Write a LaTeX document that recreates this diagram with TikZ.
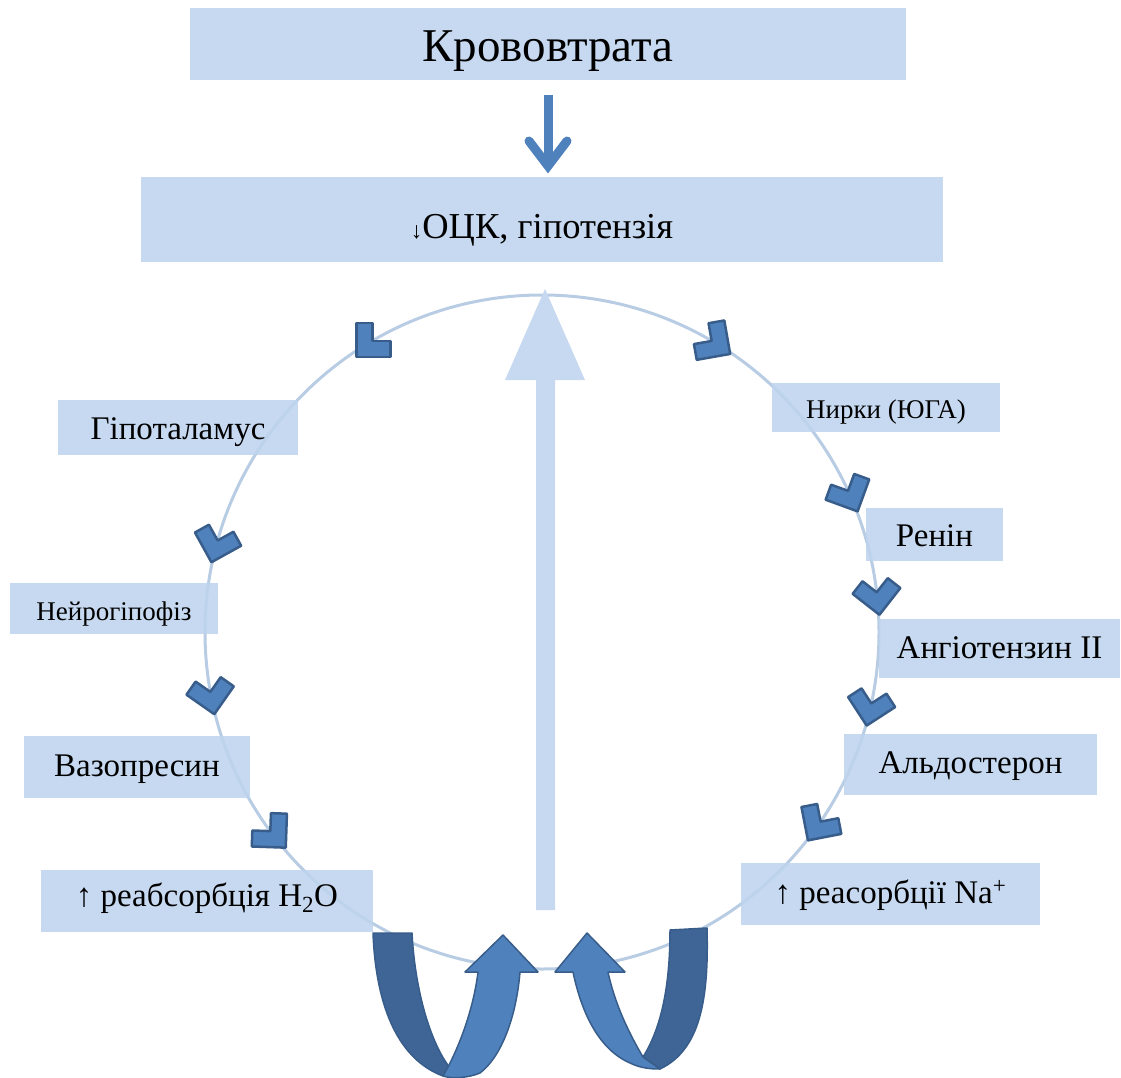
\documentclass[tikz,border=0pt]{standalone}
\usepackage{fontspec}
\setmainfont{Liberation Serif}
\usetikzlibrary{backgrounds}
\definecolor{boxblue}{RGB}{198,217,240}
\definecolor{boxfill}{RGB}{190,212,238}
\definecolor{ringblue}{RGB}{184,204,228}
\definecolor{accent}{RGB}{79,129,189}
\definecolor{accentdark}{RGB}{56,93,138}
\definecolor{backblue}{RGB}{62,101,150}
\newcommand\titlesz{\fontsize{47}{52}\selectfont}
\newcommand\ocksz{\fontsize{36.5}{40}\selectfont}
\newcommand\mainsz{\fontsize{33}{38}\selectfont}
\newcommand\smallsz{\fontsize{27}{32}\selectfont}
\newcommand\bl[2]{\raisebox{-#1pt}[0pt][0pt]{#2}}
\tikzset{
  lbl/.style={fill=boxfill, fill opacity=0.88, text opacity=1, inner sep=0pt, align=center, text=black},
  chev/.style={fill=accent, draw=accentdark, line width=2.5pt, line join=round},
  frontarrow/.style={fill=accent, draw=accentdark, line width=1.5pt, line join=round},
  backarrow/.style={fill=backblue, draw=accentdark, line width=1.5pt, line join=round},
  ring/.style={draw=ringblue, line width=3pt},
  bigup/.style={fill=boxblue, draw=none},
  downarr/.style={draw=accent, line width=9pt}
}
\begin{document}
\begin{tikzpicture}[x=1pt,y=-1pt]
\useasboundingbox (0,0) rectangle (1121,1078);

% boxes
\node[lbl, minimum width=716pt, minimum height=72pt] (title) at (548,44) {\bl{18}{\titlesz Крововтрата}};
\node[lbl, minimum width=802pt, minimum height=85pt] (ock) at (542,219.5) {\bl{18.5}{\ocksz{\fontsize{23}{25}\selectfont ↓}ОЦК, гіпотензія}};
\node[lbl, minimum width=240pt, minimum height=55pt] (hypo) at (178,427.5) {\bl{11.5}{\mainsz Гіпоталамус}};
\node[lbl, minimum width=208pt, minimum height=51pt] (neuro) at (114,608.5) {\bl{11.5}{\smallsz Нейрогіпофіз}};
\node[lbl, minimum width=226pt, minimum height=62pt] (vaso) at (137,767) {\bl{9.5}{\mainsz Вазопресин}};
\node[lbl, minimum width=332pt, minimum height=62pt] (reabs) at (207,901) {\bl{5}{\mainsz ↑ реабсорбція H\textsubscript{2}O}};
\node[lbl, minimum width=228pt, minimum height=49pt] (kidney) at (886,407.5) {\bl{10.5}{\smallsz Нирки (ЮГА)}};
\node[lbl, minimum width=137pt, minimum height=53pt] (renin) at (934.5,534.5) {\bl{12}{\mainsz Ренін}};
\node[lbl, minimum width=241pt, minimum height=59pt] (angio) at (999.5,648.5) {\bl{9.5}{\mainsz Ангіотензин ІІ}};
\node[lbl, minimum width=253pt, minimum height=61pt] (aldo) at (970.5,764.5) {\bl{9}{\mainsz Альдостерон}};
\node[lbl, minimum width=299pt, minimum height=62pt] (na) at (890.5,894) {\bl{9}{\mainsz ↑ реасорбції Na\textsuperscript{+}}};

% ring and central arrow behind
\begin{scope}[on background layer]
  \coordinate (ringc) at (542,632);
  \draw[ring] (ringc) circle[radius=337pt];
  \fill[bigup] (536,910) -- (536,380) -- (505,380) -- (545,289) -- (585,380) -- (555,380) -- (555,910) -- cycle;
\end{scope}

% down arrow between title and ock
\coordinate (d1) at (548,95);
\coordinate (d2) at (548,166);
\draw[downarr] (d1) -- (d2);
\draw[downarr, line cap=round, line join=miter] (529,141) -- (d2) -- (567,141);

% chevrons: position angle / rotation of the L shape
\foreach \a/\r in {120/0,164/29,190/55,216/88,60/100,25/70,7/52,-12/33,-34/11} {
  \begin{scope}[shift={({542+337*cos(\a)},{632-337*sin(\a)})}, rotate=\r]
    \draw[chev] (-17,17) -- (17,17) -- (17,1) -- (-1,1) -- (-1,-17) -- (-17,-17) -- cycle;
  \end{scope}
}

% bottom curved arrows, left
\draw[backarrow] (373,933) -- (412,933) .. controls (415,990) and (430,1042) .. (450,1068) -- (443,1076) .. controls (400,1060) and (376,1010) .. (373,933) -- cycle;
\draw[frontarrow] (448,1067) .. controls (462,1040) and (474,1005) .. (478,972) -- (465,972) -- (503,935) -- (538,972) -- (520,972) .. controls (516,1020) and (500,1058) .. (480,1073) .. controls (468,1078) and (452,1079) .. (443,1076) -- cycle;
% bottom curved arrows, right
\draw[backarrow] (670,930) -- (707,928) .. controls (709,1000) and (700,1050) .. (660,1069) -- (643,1057) .. controls (660,1030) and (670,990) .. (670,930) -- cycle;
\draw[frontarrow] (573,972) .. controls (582,1015) and (600,1050) .. (630,1063) .. controls (640,1068) and (650,1069) .. (660,1069) -- (643,1057) .. controls (630,1035) and (615,1005) .. (608,972) -- (625,972) -- (587,933) -- (555,972) -- cycle;
\end{tikzpicture}
\end{document}
